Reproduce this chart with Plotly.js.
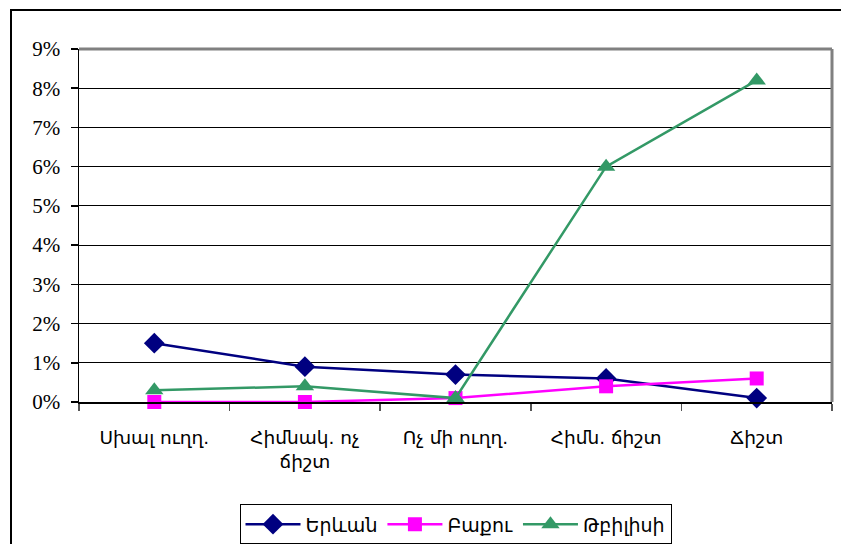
<!DOCTYPE html>
<html>
<head>
<meta charset="utf-8">
<script src="https://cdn.plot.ly/plotly-3.0.1.min.js"></script>
<style>
  html, body { margin: 0; padding: 0; background: #fff; }
  #wrap { position: relative; width: 841px; height: 544px; overflow: hidden; }
  #chart { width: 841px; height: 544px; }
  #frame { position: absolute; left: 10px; top: 9px; width: 900px; height: 600px;
           border-left: 2px solid #000; border-top: 2px solid #000; pointer-events: none; }
</style>
</head>
<body>
<div id="wrap">
  <div id="chart"></div>
  <div id="frame"></div>
</div>
<script>
const categories = ["Սխալ ուղղ.", "Հիմնակ. ոչ<br>ճիշտ", "Ոչ մի ուղղ.", "Հիմն. ճիշտ", "Ճիշտ"];
const yerevan = [1.5, 0.9, 0.7, 0.6, 0.1];
const baku = [0.0, 0.0, 0.1, 0.4, 0.6];
const tbilisi = [0.3, 0.4, 0.1, 6.0, 8.2];
const seriesNames = ["Երևան", "Բաքու", "Թբիլիսի"];
const yTickVals = [0, 1, 2, 3, 4, 5, 6, 7, 8, 9];
const yTickText = ["0%", "1%", "2%", "3%", "4%", "5%", "6%", "7%", "8%", "9%"];

const traces = [
  { x: categories, y: yerevan, name: seriesNames[0], type: "scatter", mode: "lines+markers",
    cliponaxis: false,
    line: { color: "#000080", width: 2.5 },
    marker: { symbol: "diamond", size: 16, color: "#000080" } },
  { x: categories, y: baku, name: seriesNames[1], type: "scatter", mode: "lines+markers",
    cliponaxis: false,
    line: { color: "#FF00FF", width: 2.5 },
    marker: { symbol: "square", size: 14, color: "#FF00FF" } },
  { x: categories, y: tbilisi, name: seriesNames[2], type: "scatter", mode: "lines+markers",
    cliponaxis: false,
    line: { color: "#339966", width: 2.5 },
    marker: { symbol: "triangle-up", size: 16, color: "#339966" } }
];

const layout = {
  width: 841, height: 544,
  margin: { l: 79, r: 9, t: 49, b: 142, autoexpand: false },
  paper_bgcolor: "#fff", plot_bgcolor: "#fff",
  showlegend: true,
  legend: {
    orientation: "h", x: 0.5, xanchor: "center", y: -0.29, yanchor: "top",
    bordercolor: "#000", borderwidth: 1,
    font: { family: "DejaVu Sans", size: 19, color: "#000" },
    traceorder: "normal", itemwidth: 55
  },
  xaxis: {
    type: "category", range: [-0.5, 4.5],
    showline: true, linecolor: "#000", linewidth: 1.5,
    ticks: "outside", tickson: "boundaries", ticklen: 7, tickcolor: "#555", tickwidth: 1.5,
    showgrid: false, zeroline: false,
    tickfont: { family: "DejaVu Sans", size: 18.5, color: "#000" },
    ticklabelstandoff: 18
  },
  yaxis: {
    range: [0, 9], tickvals: yTickVals, ticktext: yTickText,
    showline: true, linecolor: "#000", linewidth: 1.5,
    ticks: "outside", ticklen: 7, tickcolor: "#000", tickwidth: 1.5,
    showgrid: true, gridcolor: "#000", gridwidth: 1,
    zeroline: false,
    tickfont: { family: "Liberation Serif", size: 21, color: "#000" },
    ticklabelstandoff: 6
  },
  shapes: [
    { type: "line", xref: "paper", yref: "paper", x0: 0, x1: 1, y0: 1, y1: 1,
      line: { color: "#808080", width: 3 } },
    { type: "line", xref: "paper", yref: "paper", x0: 1, x1: 1, y0: 0, y1: 1,
      line: { color: "#808080", width: 3 } }
  ]
};

Plotly.newPlot("chart", traces, layout, { displayModeBar: false, staticPlot: true });
</script>
</body>
</html>
